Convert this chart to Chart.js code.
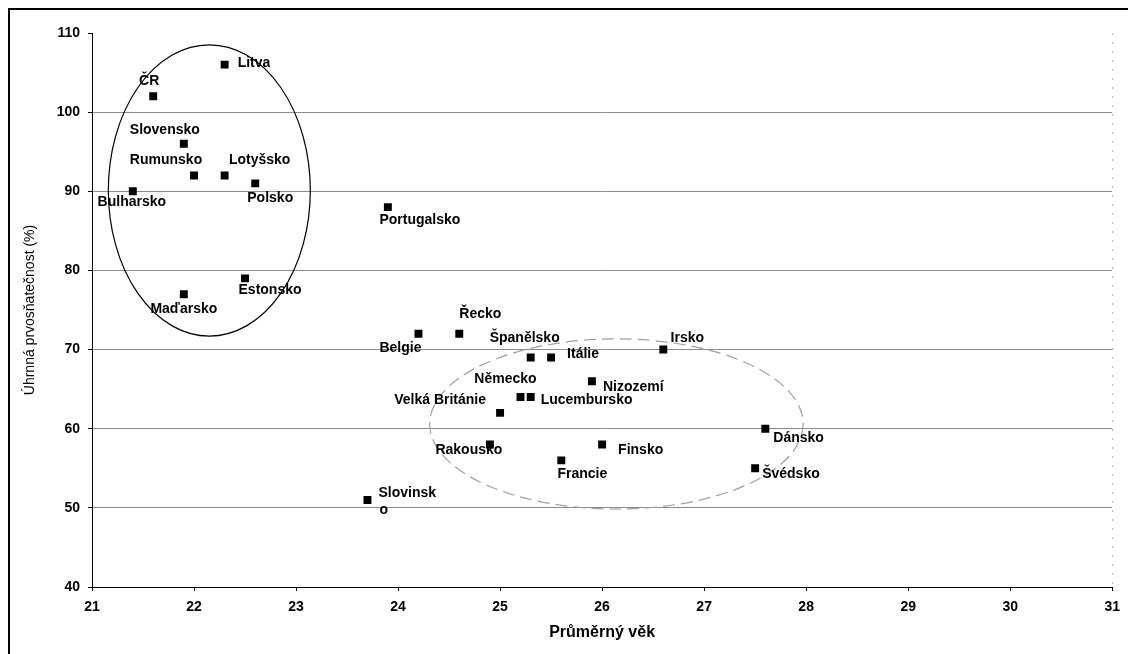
<!DOCTYPE html>
<html>
<head>
<meta charset="utf-8">
<title>Úhrnná prvosňatečnost a průměrný věk</title>
<script src="https://cdn.jsdelivr.net/npm/chart.js@4.4.1/dist/chart.umd.min.js"></script>
<style>
    html, body { margin: 0; padding: 0; background: #fff; }
    #wrap { width: 1128px; height: 654px; }
</style>
</head>
<body>
<div id="wrap"><canvas id="scatter" width="1128" height="654"></canvas></div>
<script>
const countries = ["ČR", "Litva", "Slovensko", "Rumunsko", "Lotyšsko", "Polsko", "Bulharsko", "Estonsko", "Maďarsko",
    "Portugalsko", "Belgie", "Řecko", "Španělsko", "Itálie", "Irsko", "Nizozemí", "Německo", "Lucembursko",
    "Velká Británie", "Dánsko", "Rakousko", "Finsko", "Francie", "Švédsko", "Slovinsko"];
const averageAge = [21.6, 22.3, 21.9, 22.0, 22.3, 22.6, 21.4, 22.5, 21.9,
    23.9, 24.2, 24.6, 25.3, 25.5, 26.6, 25.9, 25.2, 25.3,
    25.0, 27.6, 24.9, 26.0, 25.6, 27.5, 23.7];
const marriageRate = [102, 106, 96, 92, 92, 91, 90, 79, 77,
    88, 72, 72, 69, 69, 70, 66, 64, 64,
    62, 60, 58, 58, 56, 55, 51];

// where each label sits relative to its point: [dx, dy, align]
const labelOffsets = [[-4, -15, "center"], [13, -2, "left"], [-19, -14, "center"], [-28, -15, "center"], [35, -15, "center"],
    [15, 15, "center"], [-1, 11, "center"], [25, 12, "center"], [0, 15, "center"],
    [32, 13, "center"], [-18, 14, "center"], [21, -20, "center"], [-6, -19, "center"], [16, -3, "left"], [24, -11, "center"],
    [11, 6, "left"], [-15, -18, "center"], [10, 3, "left"],
    [-60, -13, "center"], [8, 9, "left"], [-21, 6, "center"], [16, 6, "left"], [21, 14, "center"], [7, 6, "left"], [11, -7, "left"]];

// hand drawn groups: centre x, centre y, radius x, radius y (in axis units)
const groupEllipses = [
    { cx: 22.15, cy: 90.1, rx: 0.99, ry: 18.4, color: "#000", dash: [] },
    { cx: 26.14, cy: 60.6, rx: 1.83, ry: 10.75, color: "#a0a0a0", dash: [12, 6] }
];

const FONT = "'Liberation Sans', Arial, sans-serif";

const frame = {
    id: "frame",
    beforeDraw(chart) {
        const ctx = chart.ctx;
        ctx.save();
        ctx.fillStyle = "#fff";
        ctx.fillRect(0, 0, chart.width, chart.height);
        ctx.restore();
    },
    afterDraw(chart) {
        const ctx = chart.ctx;
        const area = chart.chartArea;
        ctx.save();
        ctx.strokeStyle = "#000";
        ctx.lineWidth = 2;
        ctx.beginPath();
        ctx.moveTo(9, chart.height);
        ctx.lineTo(9, 9);
        ctx.lineTo(chart.width, 9);
        ctx.stroke();

        ctx.strokeStyle = "#b0b0b0";
        ctx.lineWidth = 1;
        ctx.setLineDash([2, 7]);
        ctx.beginPath();
        ctx.moveTo(area.right + 0.5, area.top);
        ctx.lineTo(area.right + 0.5, area.bottom);
        ctx.stroke();
        ctx.restore();
    }
};

const groups = {
    id: "groups",
    afterDatasetsDraw(chart) {
        const ctx = chart.ctx;
        const xs = chart.scales.x, ys = chart.scales.y;
        ctx.save();
        for (let g of groupEllipses) {
            let cx = xs.getPixelForValue(g.cx);
            let cy = ys.getPixelForValue(g.cy);
            let rx = Math.abs(xs.getPixelForValue(g.cx + g.rx) - cx);
            let ry = Math.abs(ys.getPixelForValue(g.cy + g.ry) - cy);
            ctx.strokeStyle = g.color;
            ctx.lineWidth = 1.2;
            ctx.setLineDash(g.dash);
            ctx.beginPath();
            ctx.ellipse(cx, cy, rx, ry, 0, 0, Math.PI * 2);
            ctx.stroke();
        }
        ctx.restore();
    }
};

const pointLabels = {
    id: "pointLabels",
    afterDatasetsDraw(chart) {
        const ctx = chart.ctx;
        const meta = chart.getDatasetMeta(0);
        ctx.save();
        ctx.fillStyle = "#000";
        ctx.font = "bold 14px " + FONT;
        ctx.textBaseline = "middle";
        meta.data.forEach((pt, i) => {
            let [dx, dy, align] = labelOffsets[i];
            ctx.textAlign = align;
            let text = countries[i];
            if (text == "Slovinsko") {
                // label wraps in the original
                ctx.fillText("Slovinsk", pt.x + dx, pt.y + dy);
                ctx.fillText("o", pt.x + dx + 1, pt.y + dy + 17);
            } else {
                ctx.fillText(text, pt.x + dx, pt.y + dy);
            }
        });
        ctx.restore();
    }
};

const ctx = document.getElementById("scatter");
new Chart(ctx, {
    type: "scatter",
    data: {
        datasets: [{
            label: "Země",
            data: averageAge.map((age, i) => ({ x: age, y: marriageRate[i] })),
            pointStyle: "rect",
            pointRadius: 5.6,
            pointBorderWidth: 0,
            backgroundColor: "#000",
            borderColor: "#000"
        }]
    },
    options: {
        responsive: false,
        animation: false,
        devicePixelRatio: 1,
        layout: { padding: { left: 0, top: 33, right: 12, bottom: 0 } },
        plugins: {
            legend: { display: false },
            tooltip: { enabled: false }
        },
        scales: {
            x: {
                type: "linear",
                min: 21,
                max: 31,
                afterFit: (scale) => { scale.height = 67; },
                ticks: { stepSize: 1, color: "#000", padding: 8, font: { family: FONT, size: 14, weight: "bold" } },
                grid: { drawOnChartArea: false, drawTicks: true, tickLength: 4, tickColor: "#000" },
                border: { display: true, color: "#000", width: 1 },
                title: {
                    display: true,
                    text: "Průměrný věk",
                    color: "#000",
                    padding: { top: 0, bottom: 12 },
                    font: { family: FONT, size: 16, weight: "bold" }
                }
            },
            y: {
                type: "linear",
                min: 40,
                max: 110,
                afterFit: (scale) => { scale.width = 92; },
                ticks: { stepSize: 10, color: "#000", padding: 8, font: { family: FONT, size: 14, weight: "bold" } },
                grid: {
                    color: (c) => (c.tick && (c.tick.value == 110 || c.tick.value == 40)) ? "rgba(0,0,0,0)" : "#8c8c8c",
                    lineWidth: 1,
                    drawTicks: true,
                    tickLength: 4,
                    tickColor: "#000"
                },
                border: { display: true, color: "#000", width: 1 },
                title: {
                    display: true,
                    text: "Úhrnná prvosňatečnost (%)",
                    color: "#000",
                    padding: { top: 22, bottom: 0 },
                    font: { family: FONT, size: 14 }
                }
            }
        }
    },
    plugins: [frame, groups, pointLabels]
});
</script>
</body>
</html>
